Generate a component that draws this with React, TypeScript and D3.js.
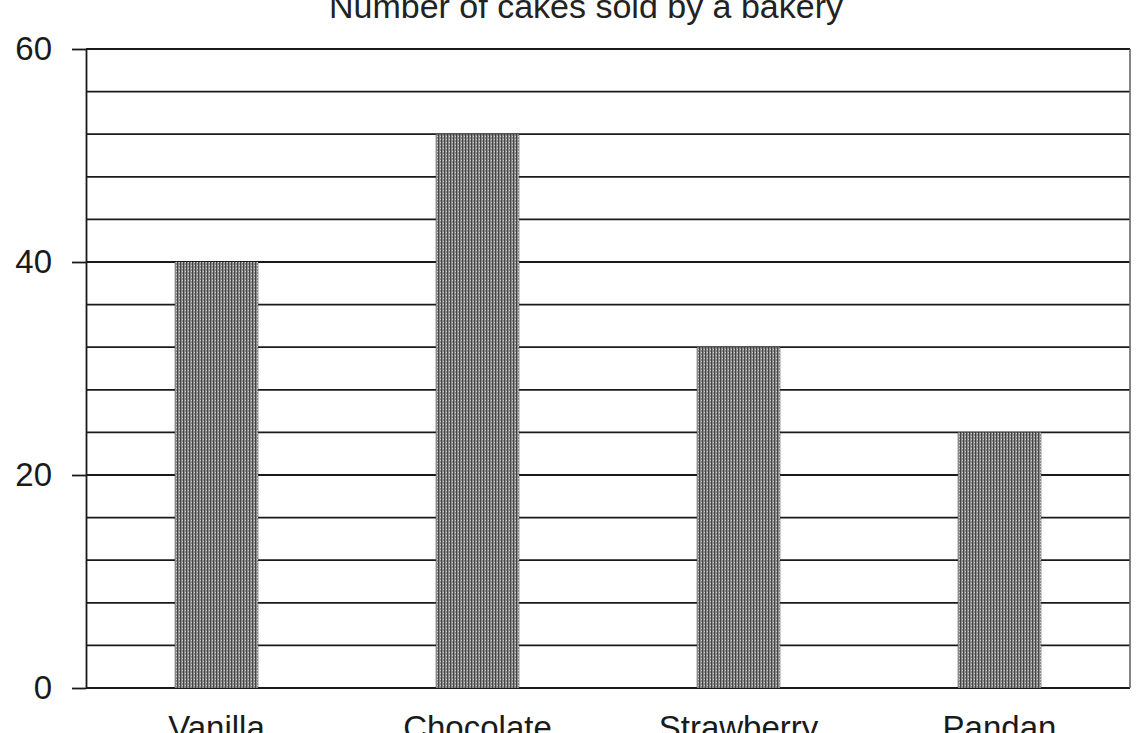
import React, { useEffect, useRef } from "react";
import * as d3 from "d3";

const flavours = ["Vanilla", "Chocolate", "Strawberry", "Pandan"];
const cakesSold = [40, 52, 32, 24];
const yTicks = [0, 20, 40, 60];
const gridValues = d3.range(0, 61, 4);

const App: React.FC = () => {
  const svgRef = useRef<SVGSVGElement | null>(null);

  useEffect(() => {
    if (!svgRef.current) return;
    document.body.style.margin = "0";

    const width = 1143;
    const height = 733;
    const marginLeft = 86;
    const marginRight = 13;
    const marginTop = 49;
    const marginBottom = 45;
    const font = "Arial, 'Liberation Sans', sans-serif";

    const x = d3
      .scaleBand<string>()
      .domain(flavours)
      .range([marginLeft, width - marginRight])
      .paddingInner(0.68)
      .paddingOuter(0.34);

    const y = d3
      .scaleLinear()
      .domain([0, 60])
      .range([height - marginBottom, marginTop]);

    const svg = d3
      .select(svgRef.current)
      .attr("viewBox", [0, 0, width, height])
      .attr("width", width)
      .attr("height", height)
      .style("font-family", font)
      .style("background", "#fff");

    // Gridlines every 4
    svg
      .append("g")
      .selectAll("line")
      .data(gridValues)
      .join("line")
      .attr("x1", marginLeft)
      .attr("x2", width - marginRight)
      .attr("y1", (d) => y(d))
      .attr("y2", (d) => y(d))
      .attr("stroke", "#1a1a1a")
      .attr("stroke-width", 1.8);

    // Right border
    svg
      .append("line")
      .attr("x1", width - marginRight)
      .attr("x2", width - marginRight)
      .attr("y1", y(60))
      .attr("y2", y(0))
      .attr("stroke", "#666")
      .attr("stroke-width", 1.6);

    // Stipple pattern for bars
    const defs = svg.append("defs");
    const pat = defs
      .append("pattern")
      .attr("id", "stipple")
      .attr("width", 3)
      .attr("height", 3)
      .attr("patternUnits", "userSpaceOnUse");
    pat.append("rect").attr("width", 3).attr("height", 3).attr("fill", "#8a8a8a");
    pat.append("rect").attr("width", 1).attr("height", 3).attr("fill", "#444");
    pat.append("rect").attr("x", 2).attr("y", 1).attr("width", 1).attr("height", 1).attr("fill", "#cfcfcf");

    // Bars
    svg
      .append("g")
      .selectAll("rect")
      .data(flavours)
      .join("rect")
      .attr("x", (d) => x(d)!)
      .attr("width", x.bandwidth())
      .attr("y", (_, i) => y(cakesSold[i]))
      .attr("height", (_, i) => y(0) - y(cakesSold[i]))
      .attr("fill", "url(#stipple)");

    // Y axis
    svg
      .append("g")
      .attr("transform", `translate(${marginLeft},0)`)
      .call(d3.axisLeft(y).tickValues(yTicks).tickSize(14).tickPadding(20).tickSizeOuter(0))
      .call((g) => g.selectAll("line, path").attr("stroke", "#1a1a1a").attr("stroke-width", 1.8))
      .call((g) =>
        g
          .selectAll("text")
          .attr("font-size", 33)
          .attr("fill", "#1a1a1a")
          .attr("font-family", font)
      );

    // X labels
    svg
      .append("g")
      .selectAll("text")
      .data(flavours)
      .join("text")
      .attr("x", (d) => x(d)! + x.bandwidth() / 2)
      .attr("y", height + 6)
      .attr("text-anchor", "middle")
      .attr("font-size", 33)
      .attr("fill", "#1a1a1a")
      .text((d) => d);

    // Title
    svg
      .append("text")
      .attr("x", 586)
      .attr("y", 18)
      .attr("text-anchor", "middle")
      .attr("font-size", 34)
      .attr("fill", "#222")
      .text("Number of cakes sold by a bakery");

    return () => {
      svg.selectAll("*").remove();
    };
  }, []);

  return <svg ref={svgRef} style={{ display: "block" }}></svg>;
};

export default App;
